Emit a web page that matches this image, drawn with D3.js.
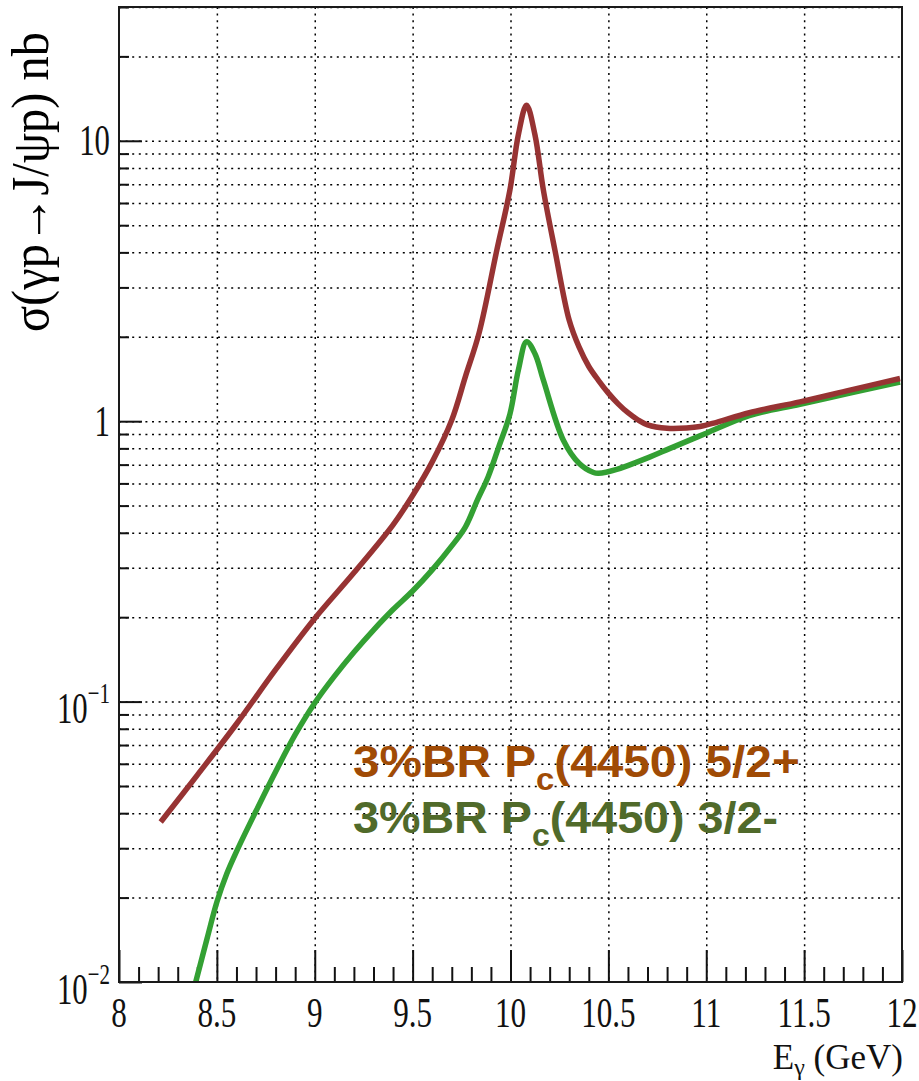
<!DOCTYPE html>
<html><head><meta charset="utf-8">
<script src="https://cdn.jsdelivr.net/npm/d3@7"></script>
<style>body{margin:0;background:#fff}svg{display:block}</style>
</head><body>
<svg id="chart" width="919" height="1081"></svg>
<script>
// ---------- data ----------
const energyRed = [8.213,8.40,8.60,8.80,9.00,9.20,9.40,9.50,9.60,9.70,9.77,9.84,9.93,9.997,10.04,10.082,10.125,10.168,10.227,10.30,10.35,10.40,10.45,10.50,10.55,10.60,10.65,10.70,10.80,10.90,10.968,11.053,11.22,11.479,11.734,11.99];
const sigmaRed  = [0.0372,0.0547,0.0832,0.130,0.198,0.288,0.427,0.543,0.716,1.01,1.445,2.07,4.07,6.67,10.5,13.4,10.5,6.67,4.07,2.29,1.84,1.567,1.396,1.259,1.153,1.072,1.012,0.971,0.944,0.946,0.957,0.991,1.072,1.172,1.29,1.42];
const energyGreen = [8.392,8.45,8.50,8.55,8.60,8.70,8.80,8.90,9.00,9.10,9.20,9.30,9.40,9.50,9.60,9.70,9.77,9.83,9.886,9.94,9.997,10.04,10.082,10.125,10.168,10.27,10.35,10.424,10.45,10.543,10.713,10.815,11.0,11.22,11.479,11.734,11.99];
const sigmaGreen  = [0.0100,0.01429,0.01928,0.02427,0.02917,0.0407,0.0562,0.0762,0.0989,0.123,0.150,0.180,0.213,0.248,0.295,0.359,0.420,0.522,0.634,0.81,1.06,1.52,1.92,1.74,1.40,0.855,0.708,0.656,0.652,0.673,0.746,0.80,0.906,1.047,1.148,1.259,1.38];

const xTickValues = [8,8.5,9,9.5,10,10.5,11,11.5,12];
const xTickLabels = ["8","8.5","9","9.5","10","10.5","11","11.5","12"];
const yMajorValues = [0.01,0.1,1,10];
const yMajorBase = ["10","10","1","10"];
const yMajorExp  = ["\u22122","\u22121","",""];
const legendLine1 = ["3%BR P","c","(4450) 5/2+"];
const legendLine2 = ["3%BR P","c","(4450) 3/2-"];
const yTitle = "\u03c3(\u03b3p\u2192J/\u03c8p) nb";
const xTitleMain = "E", xTitleSub = "\u03b3", xTitleRest = " (GeV)";

// ---------- layout ----------
const L = 119, T = 7, R = 902, B = 982;
const W = R - L, H = B - T;
const svg = d3.select("#chart");
const x = d3.scaleLinear().domain([8,12]).range([L,R]);
const y = d3.scaleLog().domain([0.01,30]).range([B,T]);

// tick positions
const xMinor = d3.range(80,121).map(v=>v/10).filter(v=>!xTickValues.some(t=>Math.abs(t-v)<1e-9));
const yMinor = [];
[0.01,0.1,1,10].forEach(d=>{for(let k=2;k<=9;k++){const v=d*k; if(v<=30) yMinor.push(+v.toPrecision(3));}});
const yAllGrid = yMajorValues.filter(v=>v>0.01).concat(yMinor);

// ---------- grid ----------
const gridStyle = g => g.selectAll("line").attr("stroke","#000").attr("stroke-width",1.5).attr("stroke-dasharray","2,4.6");
svg.append("g").attr("transform",`translate(${L},0)`)
  .call(d3.axisLeft(y).tickValues(yAllGrid).tickSizeInner(-W).tickSizeOuter(0).tickFormat(""))
  .call(g=>g.select(".domain").remove()).call(gridStyle);
svg.append("g").attr("transform",`translate(0,${T})`)
  .call(d3.axisTop(x).tickValues(xTickValues.slice(1,-1)).tickSizeInner(-H).tickSizeOuter(0).tickFormat(""))
  .call(g=>g.select(".domain").remove()).call(gridStyle);

// ---------- ticks ----------
const tickStyle = g => g.selectAll("line").attr("stroke","#111").attr("stroke-width",2);
svg.append("g").attr("transform",`translate(0,${B})`)
  .call(d3.axisBottom(x).tickValues(xTickValues).tickSizeInner(-32).tickSizeOuter(0).tickFormat(""))
  .call(g=>g.select(".domain").remove()).call(tickStyle);
svg.append("g").attr("transform",`translate(0,${B})`)
  .call(d3.axisBottom(x).tickValues(xMinor).tickSizeInner(-15).tickSizeOuter(0).tickFormat(""))
  .call(g=>g.select(".domain").remove()).call(tickStyle);
const yMajAxis = svg.append("g").attr("transform",`translate(${L},0)`)
  .call(d3.axisLeft(y).tickValues(yMajorValues).tickSizeInner(-23).tickSizeOuter(0).tickFormat(""))
  .call(g=>g.select(".domain").remove()).call(tickStyle);
svg.append("g").attr("transform",`translate(${L},0)`)
  .call(d3.axisLeft(y).tickValues(yMinor).tickSizeInner(-10).tickSizeOuter(0).tickFormat(""))
  .call(g=>g.select(".domain").remove()).call(tickStyle);

// ---------- curves ----------
svg.append("clipPath").attr("id","plotclip").append("rect")
  .attr("x",L).attr("y",T).attr("width",W).attr("height",H);
const line = d3.line().x(d=>x(d[0])).y(d=>y(d[1])).curve(d3.curveCatmullRom.alpha(0.5));
const plot = svg.append("g").attr("clip-path","url(#plotclip)");
plot.append("path").datum(d3.zip(energyGreen,sigmaGreen))
  .attr("d",line).attr("fill","none").attr("stroke","#33a033").attr("stroke-width",5.5).attr("stroke-linejoin","round");
plot.append("path").datum(d3.zip(energyRed,sigmaRed))
  .attr("d",line).attr("fill","none").attr("stroke","#973333").attr("stroke-width",5.5).attr("stroke-linejoin","round");

// ---------- frame ----------
svg.append("rect").attr("x",L).attr("y",T).attr("width",W).attr("height",H)
  .attr("fill","none").attr("stroke","#1a1a1a").attr("stroke-width",2);

// ---------- tick labels ----------
const serif = "'Liberation Serif','Times New Roman',serif";
svg.append("g").selectAll("text").data(xTickValues).join("text")
  .attr("transform",(d)=>`translate(${x(d)},${B+45}) scale(0.75,1)`)
  .attr("text-anchor","middle").attr("font-family",serif).attr("font-size",41.5).attr("fill","#111")
  .text((d,i)=>xTickLabels[i]);

yMajAxis.selectAll(".tick").each(function(d){
  const i = yMajorValues.indexOf(d);
  const hasExp = yMajorExp[i] !== "";
  const t = d3.select(this).append("text")
    .attr("transform",`translate(-9,${hasExp?21:14}) scale(0.7,1)`)
    .attr("text-anchor","end").attr("font-family",serif).attr("font-size",44).attr("fill","#111");
  t.append("tspan").text(yMajorBase[i]);
  if(hasExp) t.append("tspan").attr("font-size",30).attr("dy",-20).text(yMajorExp[i]);
});

// ---------- axis titles ----------
svg.append("text").attr("transform","translate(48,182) rotate(-90)")
  .attr("text-anchor","middle").attr("font-family",serif).attr("font-size",52).attr("fill","#000")
  .attr("textLength",300).attr("lengthAdjust","spacingAndGlyphs").text(yTitle);

const xt = svg.append("text").attr("x",903).attr("y",1069).attr("text-anchor","end")
  .attr("font-family",serif).attr("font-size",35).attr("fill","#111");
xt.append("tspan").text(xTitleMain);
xt.append("tspan").attr("font-size",24).attr("dy",6).text(xTitleSub);
xt.append("tspan").attr("dy",-6).text(xTitleRest);

// ---------- legend ----------
function legend(parts, x0, y0, color, targetW){
  const t = svg.append("text").attr("x",0).attr("y",0)
    .attr("font-family","'Liberation Sans',Arial,sans-serif").attr("font-weight","bold")
    .attr("font-size",45).attr("fill",color);
  t.append("tspan").text(parts[0]);
  t.append("tspan").attr("font-size",31).attr("dy",13).text(parts[1]);
  t.append("tspan").attr("dy",-13).text(parts[2]);
  const bb = t.node().getBBox();
  t.attr("transform",`translate(${x0},${y0}) scale(${targetW/bb.width},1)`);
}
legend(legendLine1, 353, 777, "#a04b05", 447);
legend(legendLine2, 353, 833, "#506a2a", 425);
</script>
</body></html>
